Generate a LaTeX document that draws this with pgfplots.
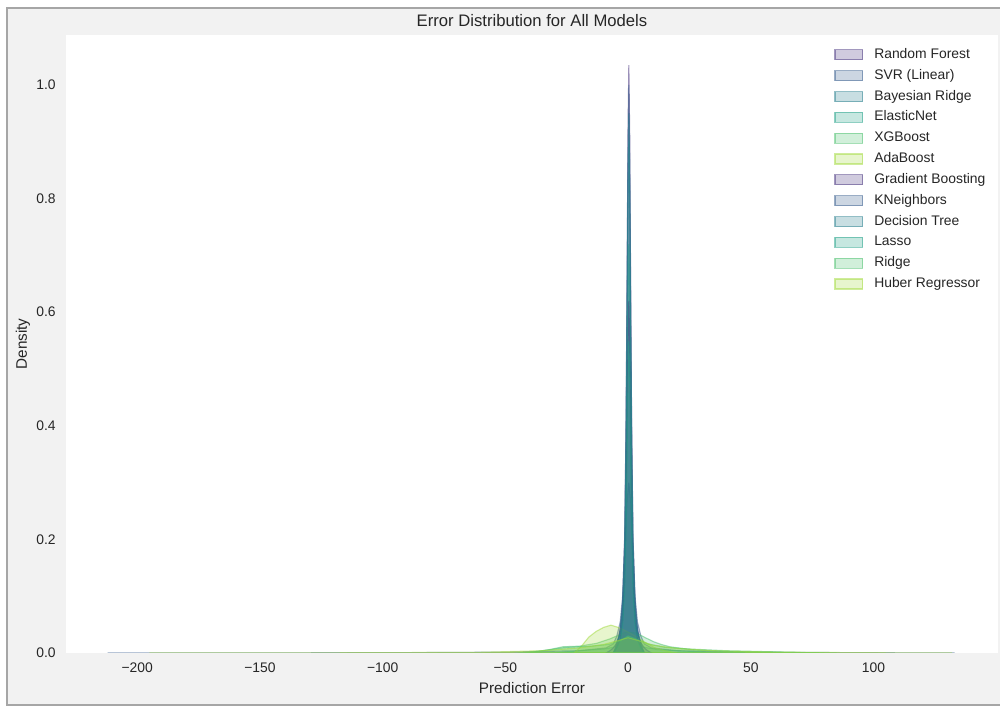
\documentclass[border=0pt]{standalone}
\usepackage{pgfplots}
\pgfplotsset{compat=1.18}
\usepackage{fontspec}
\setmainfont{Liberation Sans}
\definecolor{c1}{RGB}{70,50,126}
\definecolor{c2}{RGB}{54,92,141}
\definecolor{c3}{RGB}{39,127,142}
\definecolor{c4}{RGB}{31,161,135}
\definecolor{c5}{RGB}{74,193,109}
\definecolor{c6}{RGB}{160,218,57}
\definecolor{txt}{RGB}{38,38,38}
\definecolor{figbg}{RGB}{242,242,242}
\pgfplotsset{
  kde/.style={fill=#1, fill opacity=0.25, draw=#1, draw opacity=0.5, line width=0.8pt, mark=none},
}
\begin{document}
\begin{tikzpicture}
\useasboundingbox (0,0) rectangle (720pt,508.32pt);
\filldraw[fill=figbg, draw=gray!70, line width=0.9pt] (5.04pt,0.72pt) rectangle (725pt,502.56pt);
\begin{axis}[
  at={(47.52pt,38.16pt)}, anchor=south west,
  width=671.04pt, height=444.96pt, scale only axis,
  xmin=-229, xmax=150.7, ymin=0, ymax=1.088,
  axis background/.style={fill=white},
  axis line style={draw=none},
  major tick length=0pt,
  xtick={-200,-150,-100,-50,0,50,100},
  xticklabels={−200,−150,−100,−50,0,50,100},
  ytick={0,0.2,0.4,0.6,0.8,1.0},
  yticklabels={0.0,0.2,0.4,0.6,0.8,1.0},
  tick label style={font=\fontsize{10}{12}\selectfont, text=txt},
  xticklabel style={anchor=center, inner sep=0pt, yshift=-10.8pt},
  yticklabel style={anchor=east, inner sep=0pt, xshift=-7.2pt},
  title={Error Distribution for All Models},
  title style={at={(axis description cs:0.5,1.02265)}, anchor=center, yshift=-6pt, font=\fontsize{12}{14}\selectfont, text=txt},
  xlabel={Prediction Error},
  xlabel style={at={(axis description cs:0.5,-0.0566)}, anchor=center, font=\fontsize{11}{13}\selectfont, text=txt},
  ylabel={Density},
  ylabel style={at={(axis description cs:-0.0461,0.5)}, anchor=center, font=\fontsize{11}{13}\selectfont, text=txt},
  legend cell align=left,
  legend image code/.code={\draw[#1] (0pt,-3.6pt) rectangle (20pt,3.6pt);},
  legend style={at={(axis description cs:0.8197,0.9838)}, anchor=north west, draw=none, fill=none,
    font=\fontsize{10}{12}\selectfont, text=txt,
    nodes={inner sep=0pt, text height=7.5pt, text depth=2.3pt},
    row sep=5.2pt,
    /tikz/every odd column/.append style={column sep=7.9pt}},
]
% Random Forest
\addplot[kde=c1] coordinates {(-6.0,0) (-4.6,0.0155) (-3.2,0.0414) (-2.22,0.0932) (-1.38,0.207) (-0.82,0.414) (-0.4,0.673) (-0.05,0.911) (0.3,1.035) (0.65,0.911) (1.0,0.673) (1.42,0.414) (1.98,0.207) (2.82,0.0932) (3.8,0.0414) (5.2,0.0155) (6.6,0)} \closedcycle;
\addlegendentry{Random Forest}
% SVR (Linear)
\addplot[kde=c2] coordinates {(-212,0) (-150,0.0002) (-90,0.0006) (-50,0.0015) (-20,0.004) (-9,0.009) (-6.0,0.016) (-4.6,0.03) (-3.2,0.055) (-2.22,0.1) (-1.38,0.2) (-0.82,0.4) (-0.4,0.65) (-0.05,0.88) (0.3,1.0) (0.65,0.88) (1.0,0.65) (1.42,0.4) (1.98,0.2) (2.82,0.1) (3.8,0.055) (5.2,0.03) (6.6,0.016) (9.5,0.009) (20,0.004) (50,0.0015) (90,0.0006) (133,0)} \closedcycle;
\addlegendentry{SVR (Linear)}
% Bayesian Ridge
\addplot[kde=c3] coordinates {(-6.0,0) (-4.6,0.0143) (-3.2,0.038) (-2.22,0.0855) (-1.38,0.19) (-0.82,0.38) (-0.4,0.6175) (-0.05,0.836) (0.3,0.95) (0.65,0.836) (1.0,0.6175) (1.42,0.38) (1.98,0.19) (2.82,0.0855) (3.8,0.038) (5.2,0.0143) (6.6,0)} \closedcycle;
\addlegendentry{Bayesian Ridge}
% ElasticNet
\addplot[kde=c4] coordinates {(-30,0) (-20,0.004) (-10,0.007) (-6.0,0.01) (-4.6,0.018) (-3.2,0.0348) (-2.22,0.0648) (-1.38,0.144) (-0.82,0.288) (-0.4,0.468) (-0.05,0.634) (0.3,0.72) (0.65,0.634) (1.0,0.468) (1.42,0.288) (1.98,0.144) (2.82,0.0648) (3.8,0.0348) (5.2,0.018) (6.6,0.01) (12,0.006) (25,0.003) (40,0)} \closedcycle;
\addlegendentry{ElasticNet}
% XGBoost
\addplot[kde=c5] coordinates {(-42,0) (-38,0.002) (-32,0.006) (-26.5,0.011) (-20,0.012) (-12.8,0.017) (-7.3,0.025) (-3.5,0.032) (-0.5,0.037) (3.5,0.035) (7,0.027) (10.3,0.02) (13.5,0.015) (17,0.011) (22,0.008) (28,0.005) (35,0.0035) (41.5,0.0025) (55,0.0015) (70,0.0007) (85,0)} \closedcycle;
\addlegendentry{XGBoost}
% AdaBoost
\addplot[kde=c6] coordinates {(-22,0) (-19,0.012) (-16,0.028) (-13,0.038) (-10,0.045) (-7,0.049) (-4,0.045) (-1,0.039) (2,0.032) (5,0.024) (8,0.016) (11,0.009) (15,0.004) (20,0)} \closedcycle;
\addlegendentry{AdaBoost}
% Gradient Boosting
\addplot[kde=c1] coordinates {(-6.0,0) (-4.6,0.0093) (-3.2,0.0248) (-2.22,0.0558) (-1.38,0.124) (-0.82,0.248) (-0.4,0.403) (-0.05,0.546) (0.3,0.62) (0.65,0.546) (1.0,0.403) (1.42,0.248) (1.98,0.124) (2.82,0.0558) (3.8,0.0248) (5.2,0.0093) (6.6,0)} \closedcycle;
\addlegendentry{Gradient Boosting}
% KNeighbors
\addplot[kde=c2] coordinates {(-9,0) (-7.2,0.0045) (-5.3,0.012) (-3.8,0.027) (-2.6,0.06) (-1.8,0.12) (-1.1,0.195) (-0.5,0.264) (0.3,0.3) (1.1,0.264) (1.7,0.195) (2.4,0.12) (3.2,0.06) (4.4,0.027) (5.9,0.012) (7.8,0.0045) (9.6,0)} \closedcycle;
\addlegendentry{KNeighbors}
% Decision Tree
\addplot[kde=c3] coordinates {(-6.0,0) (-4.6,0.0135) (-3.2,0.036) (-2.22,0.081) (-1.38,0.18) (-0.82,0.36) (-0.4,0.585) (-0.05,0.792) (0.3,0.9) (0.65,0.792) (1.0,0.585) (1.42,0.36) (1.98,0.18) (2.82,0.081) (3.8,0.036) (5.2,0.0135) (6.6,0)} \closedcycle;
\addlegendentry{Decision Tree}
% Lasso
\addplot[kde=c4] coordinates {(-6.0,0) (-4.6,0.0083) (-3.2,0.022) (-2.22,0.0495) (-1.38,0.11) (-0.82,0.22) (-0.4,0.358) (-0.05,0.484) (0.3,0.55) (0.65,0.484) (1.0,0.358) (1.42,0.22) (1.98,0.11) (2.82,0.0495) (3.8,0.022) (5.2,0.0083) (6.6,0)} \closedcycle;
\addlegendentry{Lasso}
% Ridge
\addplot[kde=c5] coordinates {(-45,0) (-35,0.004) (-25,0.01) (-15,0.012) (-8,0.015) (-3,0.022) (0,0.03) (3,0.025) (8,0.016) (15,0.01) (25,0.007) (40,0.004) (60,0.002) (80,0)} \closedcycle;
\addlegendentry{Ridge}
% Huber Regressor
\addplot[kde=c6] coordinates {(-195,0) (-120,0.0003) (-60,0.0012) (-35,0.004) (-20,0.009) (-10,0.015) (-4,0.022) (0,0.027) (4,0.022) (10,0.014) (20,0.008) (35,0.004) (60,0.0015) (100,0.0004) (132,0)} \closedcycle;
\addlegendentry{Huber Regressor}
\end{axis}
\end{tikzpicture}
\end{document}
